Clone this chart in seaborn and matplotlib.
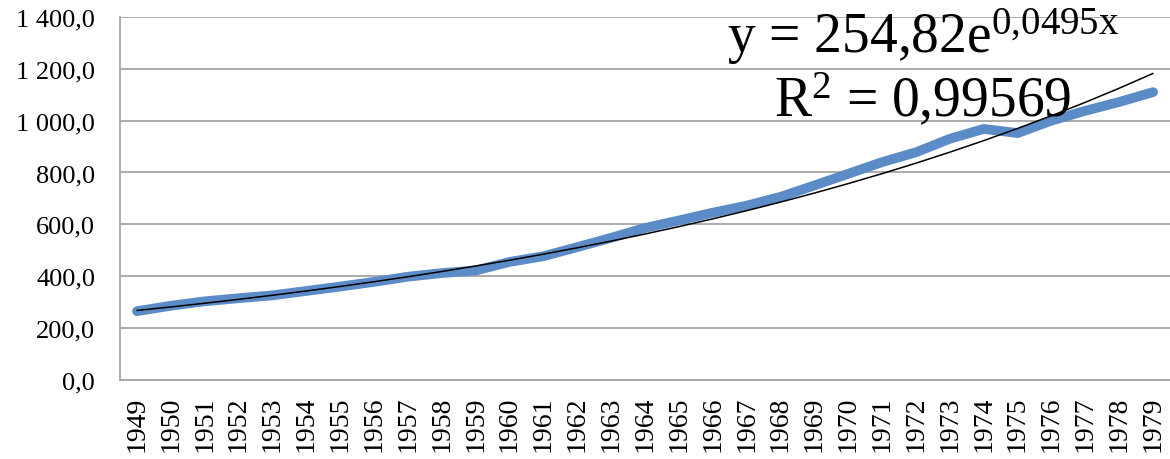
import numpy as np
import pandas as pd
import matplotlib
matplotlib.use("Agg")
import matplotlib.pyplot as plt
from matplotlib.ticker import FuncFormatter, MultipleLocator
import seaborn as sns

# Дані з графіка
years = list(range(1949, 1980))
values = [265, 286, 303, 315, 326, 343, 360, 378, 398, 412,
          422, 455, 477, 512, 548, 586, 615, 645, 672, 706,
          750, 795, 840, 878, 930, 968, 952, 1000, 1038, 1072, 1110]

# Параметри експоненційного тренду (з підпису на графіку)
trend_a = 254.82
trend_b = 0.0495
eq_label = r"y = 254,82e$^{\mathrm{0{,}0495x}}$"
r2_label = r"R$^{\mathrm{2}}$ = 0,99569"

df = pd.DataFrame({"pos": np.arange(len(years)), "value": values})
df["trend"] = trend_a * np.exp(trend_b * (df["pos"] + 1))

sns.set_style("white")
plt.rcParams["font.family"] = ["Liberation Serif", "DejaVu Serif"]
plt.rcParams["mathtext.fontset"] = "custom"
plt.rcParams["mathtext.rm"] = "Liberation Serif"
plt.rcParams["mathtext.it"] = "Liberation Serif:italic"
plt.rcParams["text.color"] = "black"

fig = plt.figure(figsize=(11.7, 4.6), dpi=100)
ax = fig.add_axes([0.1026, 0.172, 0.8974, 0.789])

sns.lineplot(data=df, x="pos", y="value", ax=ax, color="#5b8cc8",
             linewidth=7, solid_capstyle="round", solid_joinstyle="round", zorder=3)
sns.lineplot(data=df, x="pos", y="trend", ax=ax, color="black",
             linewidth=1.1, zorder=4)

ax.set_xlim(-0.5, len(years) - 0.5)
ax.set_ylim(0, 1400)
ax.yaxis.set_major_locator(MultipleLocator(200))
ax.yaxis.set_major_formatter(FuncFormatter(
    lambda v, p: f"{v:,.1f}".replace(",", " ").replace(".", ",")))
ax.grid(axis="y", color="#a6a6a6", linewidth=1.3)
ax.set_axisbelow(True)

ax.set_xticks(df["pos"])
ax.set_xticklabels([str(y) for y in years], rotation=90)
ax.set_xticks(np.arange(-0.5, len(years)), minor=True)
ax.tick_params(axis="x", which="major", length=0, labelsize=20, pad=11,
               labelcolor="black")
ax.tick_params(axis="x", which="minor", length=6, width=1.3, color="#a6a6a6")
ax.tick_params(axis="y", length=6, width=1.3, color="#a6a6a6", labelsize=19, pad=12,
               labelcolor="black")
ax.set_xlabel("")
ax.set_ylabel("")

for s in ["top", "right"]:
    ax.spines[s].set_visible(False)
for s in ["left", "bottom"]:
    ax.spines[s].set_color("#a6a6a6")
    ax.spines[s].set_linewidth(1.3)

fig.text(923 / 1170, 1 - 53 / 460, eq_label, ha="center", va="baseline",
         fontsize=40, color="black")
fig.text(923 / 1170, 1 - 117 / 460, r2_label, ha="center", va="baseline",
         fontsize=40, color="black")

fig.savefig("out.png", dpi=100)
